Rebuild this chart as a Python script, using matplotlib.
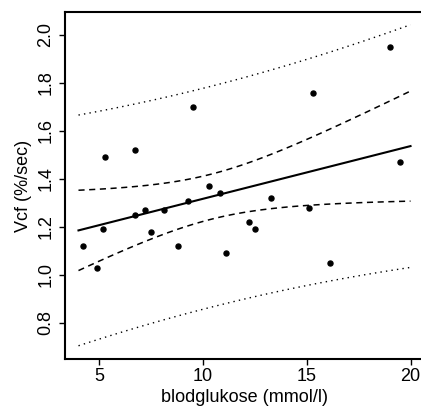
import matplotlib
matplotlib.use("Agg")
import matplotlib.pyplot as plt
import numpy as np

# thuesen data (blood glucose vs. short velocity), NA row dropped
glucose = [15.3, 10.8, 8.1, 19.5, 7.2, 5.3, 9.3, 11.1, 7.5, 12.2, 6.7, 5.2,
           19.0, 15.1, 6.7, 4.2, 10.3, 12.5, 16.1, 13.3, 4.9, 8.8, 9.5]
velocity = [1.76, 1.34, 1.27, 1.47, 1.27, 1.49, 1.31, 1.09, 1.18, 1.22, 1.25, 1.19,
            1.95, 1.28, 1.52, 1.12, 1.37, 1.19, 1.05, 1.32, 1.03, 1.12, 1.70]
x_ticks = [5, 10, 15, 20]
y_ticks = [0.8, 1.0, 1.2, 1.4, 1.6, 1.8, 2.0]

plt.rcParams['font.family'] = ['Liberation Sans', 'DejaVu Sans']

x = np.array(glucose)
y = np.array(velocity)
n = len(x)

# least squares fit + confidence / prediction bands
b, a = np.polyfit(x, y, 1)
resid = y - (a + b * x)
s = np.sqrt(np.sum(resid ** 2) / (n - 2))
sxx = np.sum((x - x.mean()) ** 2)
t = 2.079614  # qt(0.975, 21)

xnew = np.linspace(4, 20, 100)
fit = a + b * xnew
se_fit = s * np.sqrt(1 / n + (xnew - x.mean()) ** 2 / sxx)
se_pred = s * np.sqrt(1 + 1 / n + (xnew - x.mean()) ** 2 / sxx)

W, H = 421, 408
fig = plt.figure(figsize=(W / 100, H / 100), dpi=100)
ax = fig.add_axes([65 / W, (H - 358.7) / H, (424 - 65) / W, (358.7 - 12.3) / H])

ax.plot(x, y, 'o', color='black', markersize=3.6)
ax.plot(xnew, fit, color='black', linewidth=1.5)
ax.plot(xnew, fit - t * se_fit, color='black', linewidth=1.1, linestyle=(0, (4, 3)))
ax.plot(xnew, fit + t * se_fit, color='black', linewidth=1.1, linestyle=(0, (4, 3)))
ax.plot(xnew, fit - t * se_pred, color='black', linewidth=1.0, linestyle=(0, (1, 3)))
ax.plot(xnew, fit + t * se_pred, color='black', linewidth=1.0, linestyle=(0, (1, 3)))

ax.set_xlim(3.35, 20.65)
ax.set_ylim(0.651, 2.0946)
ax.set_xticks(x_ticks)
ax.set_yticks(y_ticks)
ax.set_yticklabels([f"{v:.1f}" for v in y_ticks], rotation=90, va='center')
ax.tick_params(direction='out', length=4.3, width=1, labelsize=13)
ax.tick_params(axis='x', pad=2.5)
ax.tick_params(axis='y', pad=3.5)
for sp in ax.spines.values():
    sp.set_linewidth(1.5)

ax.set_xlabel("blodglukose (mmol/l)", fontsize=13, labelpad=3)
ax.set_ylabel("Vcf (%/sec)", fontsize=13, labelpad=4)

fig.savefig("out.png", dpi=100)
